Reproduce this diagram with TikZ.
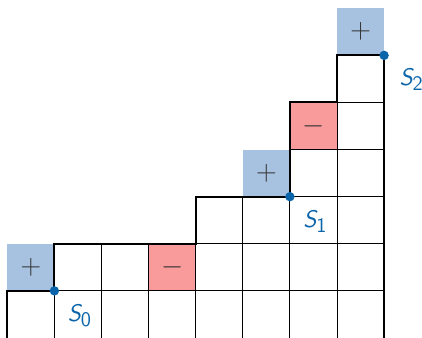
\documentclass[tikz,border=0pt]{standalone}
\definecolor{plusblue}{RGB}{167,193,224}
\definecolor{minusred}{RGB}{250,155,155}
\definecolor{dotblue}{RGB}{10,100,170}
\begin{document}
\begin{tikzpicture}[x=1cm,y=1cm,
  cellgrid/.style={draw=black, line width=0.6pt},
  boundary/.style={draw=black, line width=1.2pt, line join=miter},
  pluscell/.style={fill=plusblue},
  minuscell/.style={fill=minusred},
  sign/.style={text=black!80, inner sep=0pt, font=\fontsize{16}{16}\selectfont},
  corner/.style={circle, fill=dotblue, inner sep=0pt, minimum size=0.2cm},
  slabel/.style={text=dotblue, inner sep=0pt, anchor=base west, font=\sffamily}
]
\useasboundingbox (-0.155,0.012) rectangle (8.805,7.176);
% coloured cells
\fill[pluscell] (0,1) rectangle (1,2);
\fill[pluscell] (5,3) rectangle (6,4);
\fill[pluscell] (7,6) rectangle (8,7);
\fill[minuscell] (3,1) rectangle (4,2);
\fill[minuscell] (6,4) rectangle (7,5);
% grid of the diagram
\draw[cellgrid] (0,1) -- (8,1);
\foreach \x in {0,...,8} \draw[cellgrid] (\x,0) -- (\x,1);
\draw[cellgrid] (1,1) grid (8,2);
\draw[cellgrid] (4,2) grid (8,3);
\draw[cellgrid] (6,3) grid (8,5);
\draw[cellgrid] (7,5) grid (8,6);
% outer boundary
\draw[boundary] (0,-0.1) -- (0,1) -- (1,1) -- (1,2) -- (4,2) -- (4,3) -- (6,3)
  -- (6,5) -- (7,5) -- (7,6) -- (8,6) -- (8,-0.1);
% signs
\node[sign] (p0) at (0.5,1.5) {$+$};
\node[sign] (p1) at (5.5,3.5) {$+$};
\node[sign] (p2) at (7.5,6.5) {$+$};
\node[sign] (m0) at (3.5,1.5) {$-$};
\node[sign] (m1) at (6.5,4.5) {$-$};
% corners
\node[corner] (s0) at (1,1) {};
\node[corner] (s1) at (6,3) {};
\node[corner] (s2) at (8,6) {};
% labels
\newcommand{\slab}[1]{{\fontsize{14.5}{15}\selectfont\itshape S}\raisebox{-3pt}{\fontsize{12.5}{13}\selectfont #1}}
\node[slabel] (l0) at ([shift={(0.28,-0.654)}]s0.center) {\slab{0}};
\node[slabel] (l1) at ([shift={(0.28,-0.654)}]s1.center) {\slab{1}};
\node[slabel] (l2) at ([shift={(0.32,-0.63)}]s2.center) {\slab{2}};
\end{tikzpicture}
\end{document}
